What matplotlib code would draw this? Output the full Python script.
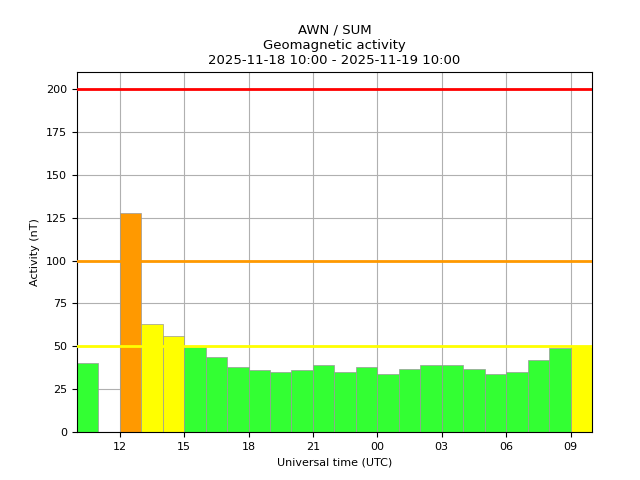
import matplotlib
matplotlib.use("Agg")
import matplotlib.pyplot as plt

hours = list(range(10, 34))
values = [40, None, 128, 63, 56, 49.6, 44, 38, 36, 35, 36, 39, 35, 38, 34, 37, 39, 39, 37, 34, 35, 42, 49, 50.2]
tick_pos = [12, 15, 18, 21, 24, 27, 30, 33]
tick_labels = ["12", "15", "18", "21", "00", "03", "06", "09"]
thresholds = [50, 100, 200]
thr_colors = ["#ffff00", "#ff9900", "#ff0000"]

def col(v):
    if v < 50: return "#33ff33"
    if v < 100: return "#ffff00"
    if v < 200: return "#ff9900"
    return "#ff0000"

fig, ax = plt.subplots(figsize=(6.4, 4.8), dpi=100)
ax.grid(True, color="#b0b0b0", zorder=0)
ax.set_axisbelow(True)
xs = [h for h, v in zip(hours, values) if v is not None]
vs = [v for v in values if v is not None]
ax.bar(xs, vs, width=1, align="edge", color=[col(v) for v in vs], edgecolor="#999999", linewidth=0.5, zorder=2)
for t, c in zip(thresholds, thr_colors):
    ax.axhline(t, color=c, linewidth=2, zorder=3)
ax.set_xlim(10, 34)
ax.set_ylim(0, 210)
ax.set_xticks(tick_pos)
ax.set_xticklabels(tick_labels)
ax.set_yticks(range(0, 201, 25))
ax.tick_params(labelsize=8)
ax.set_xlabel("Universal time (UTC)", fontsize=8)
ax.set_ylabel("Activity (nT)", fontsize=8)
ax.set_title("AWN / SUM\nGeomagnetic activity\n2025-11-18 10:00 - 2025-11-19 10:00", fontsize=9.5)
fig.subplots_adjust(left=0.12, right=0.925, top=0.85, bottom=0.1)
fig.savefig("out.png")
